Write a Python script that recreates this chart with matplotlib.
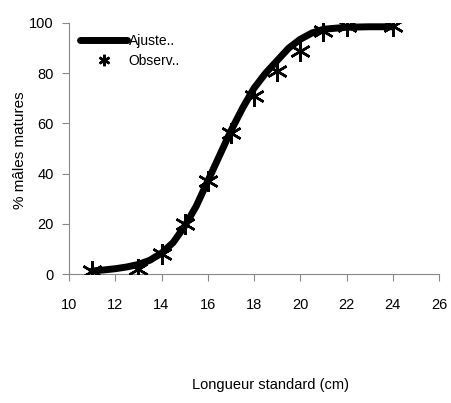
import matplotlib
matplotlib.use("Agg")
import matplotlib.pyplot as plt

plt.rcParams['font.family'] = ['Liberation Sans', 'DejaVu Sans']

# Observed data
obs_x = [11, 13, 14, 15, 16, 17, 18, 19, 20, 21, 22, 24]
obs_y = [1, 2, 8, 20, 37, 56, 71, 81, 89, 97, 99, 99]

# Fitted curve
fit_x = [11, 11.5, 12, 12.5, 13, 13.5, 14, 14.5, 15, 15.5, 16, 16.5, 17, 17.5,
         18, 18.5, 19, 19.5, 20, 20.5, 21, 22, 23, 24]
fit_y = [1.2, 1.6, 2.1, 2.8, 3.8, 5.5, 8.3, 12.5, 19, 27, 37, 47, 57, 66,
         74, 80, 85, 90, 93.5, 96, 97.5, 98.3, 98.5, 98.5]

xticks = [10, 12, 14, 16, 18, 20, 22, 24, 26]
yticks = [0, 20, 40, 60, 80, 100]

fig = plt.figure(figsize=(4.51, 4.03), dpi=100)
ax = fig.add_axes([69/451, 1-274/403, (439-69)/451, (274-23)/403])

ax.plot(fit_x, fit_y, color='black', lw=5, solid_capstyle='round', label='Ajuste..', zorder=2)
ax.plot(obs_x, obs_y, linestyle='none', marker=(6, 2, 0), markersize=15,
        markeredgewidth=1.8, color='black', label='Observ..', zorder=3)

ax.set_xlim(10, 26)
ax.set_ylim(0, 100)
ax.set_xticks(xticks)
ax.set_yticks(yticks)
for s in ['top', 'right']:
    ax.spines[s].set_visible(False)
for s in ['left', 'bottom']:
    ax.spines[s].set_color('#888888')
    ax.spines[s].set_linewidth(0.8)
ax.tick_params(axis='both', colors='#888888', labelcolor='black', labelsize=10.5, length=5, width=0.8)
ax.tick_params(axis='x', pad=12)
ax.tick_params(axis='y', pad=6)

leg = ax.legend(loc='upper left', bbox_to_anchor=(0.0, 1.0), frameon=False, fontsize=10,
                handlelength=3.4, handletextpad=0.1, labelspacing=0.45, borderaxespad=0.4,
                markerscale=0.55)

fig.text(20/451, 1-150/403, '% mâles matures', rotation=90, ha='center', va='center', fontsize=11)
fig.text(270/451, 1-385/403, 'Longueur standard (cm)', ha='center', va='center', fontsize=10.5)

fig.savefig('out.png', dpi=100)
